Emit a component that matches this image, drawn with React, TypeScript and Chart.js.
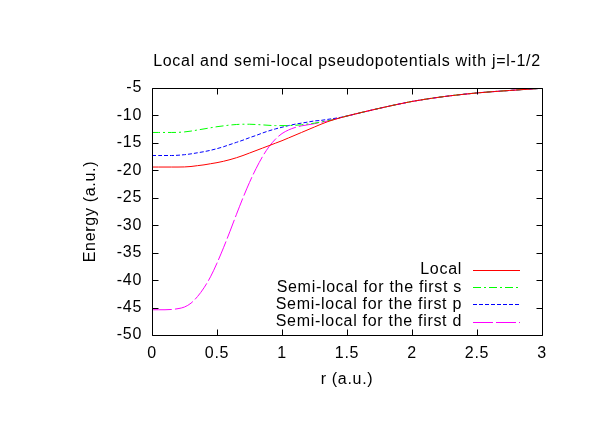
import React, { useEffect, useRef } from 'react';
import { Chart, registerables } from 'chart.js';

Chart.register(...registerables);

const rValues = [
  0, 0.05, 0.1, 0.15, 0.2, 0.25, 0.3, 0.35, 0.4, 0.45, 0.5, 0.55, 0.6, 0.65, 0.7, 0.75,
  0.8, 0.85, 0.9, 0.95, 1.0, 1.05, 1.1, 1.15, 1.2, 1.25, 1.3, 1.35, 1.4, 1.45, 1.5,
  1.75, 2.0, 2.25, 2.5, 2.75, 3.0,
];

const localValues = [
  -19.4, -19.4, -19.4, -19.4, -19.4, -19.38, -19.3, -19.15, -19.0, -18.8, -18.6, -18.35,
  -18.05, -17.7, -17.3, -16.85, -16.4, -15.95, -15.5, -15.05, -14.6, -14.1, -13.6, -13.1,
  -12.6, -12.1, -11.6, -11.15, -10.75, -10.42, -10.1,
  -8.7, -7.45, -6.55, -5.9, -5.45, -5.05,
];

const sValues = [
  -13.1, -13.1, -13.1, -13.1, -13.08, -13.0, -12.85, -12.65, -12.45, -12.25, -12.05, -11.9,
  -11.75, -11.65, -11.6, -11.6, -11.65, -11.72, -11.8, -11.85, -11.85, -11.85, -11.8, -11.7,
  -11.55, -11.4, -11.2, -11.0, -10.75, -10.42, -10.1,
  -8.7, -7.45, -6.55, -5.9, -5.45, -5.05,
];

const pValues = [
  -17.3, -17.3, -17.3, -17.3, -17.25, -17.15, -17.0, -16.8, -16.6, -16.35, -16.05, -15.7,
  -15.3, -14.9, -14.5, -14.05, -13.65, -13.2, -12.8, -12.45, -12.15, -11.85, -11.6, -11.4,
  -11.2, -11.0, -10.9, -10.72, -10.55, -10.35, -10.1,
  -8.7, -7.45, -6.55, -5.9, -5.45, -5.05,
];

const dValues = [
  -45.4, -45.4, -45.4, -45.35, -45.2, -44.9, -44.2, -43.0, -41.4, -39.4, -36.9, -34.1,
  -31.1, -28.0, -25.0, -22.2, -19.7, -17.5, -15.7, -14.3, -13.3, -12.65, -12.2, -11.9,
  -11.7, -11.5, -11.25, -11.0, -10.72, -10.42, -10.1,
  -8.7, -7.45, -6.55, -5.9, -5.45, -5.05,
];

const xTicks = [0, 0.5, 1, 1.5, 2, 2.5, 3];
const xTickLabels = ['0', '0.5', '1', '1.5', '2', '2.5', '3'];
const yTicks = [-5, -10, -15, -20, -25, -30, -35, -40, -45, -50];
const yTickLabels = ['-5', '-10', '-15', '-20', '-25', '-30', '-35', '-40', '-45', '-50'];

const seriesLabels = [
  'Local',
  'Semi-local for the first s',
  'Semi-local for the first p',
  'Semi-local for the first d',
];
const seriesColors = ['#ff0000', '#00ff00', '#0000ff', '#ff00ff'];
const seriesDashes: number[][] = [[], [8, 3, 2, 3], [4, 2], [20, 3]];

const titleText = 'Local and semi-local pseudopotentials with j=l-1/2';
const xTitle = 'r (a.u.)';
const yTitle = 'Energy (a.u.)';

const FONT_FAMILY = '"Liberation Sans", Arial, sans-serif';
const FONT_SIZE = 16;
const LETTER_SPACING = '0.7px';

const toPoints = (ys: number[]) => rValues.map((x, i) => ({ x, y: ys[i] }));

const framePlugin = {
  id: 'gnuplotFrame',
  beforeDraw(chart: any) {
    const ctx = chart.ctx;
    ctx.letterSpacing = LETTER_SPACING;
  },
  afterDraw(chart: any) {
    const ctx = chart.ctx as CanvasRenderingContext2D;
    const { left, right, top, bottom } = chart.chartArea;
    const xs = chart.scales.x;
    const ys = chart.scales.y;
    ctx.save();
    (ctx as any).letterSpacing = LETTER_SPACING;
    ctx.strokeStyle = '#000';
    ctx.lineWidth = 1;
    ctx.setLineDash([]);
    const L = Math.round(left) + 0.5;
    const R = Math.round(right) + 0.5;
    const T = Math.round(top) + 0.5;
    const B = Math.round(bottom) + 0.5;
    ctx.beginPath();
    ctx.rect(L, T, R - L, B - T);
    const tl = 6;
    xTicks.forEach((v) => {
      const px = Math.round(xs.getPixelForValue(v)) + 0.5;
      ctx.moveTo(px, B);
      ctx.lineTo(px, B - tl);
      ctx.moveTo(px, T);
      ctx.lineTo(px, T + tl);
    });
    yTicks.forEach((v) => {
      const py = Math.round(ys.getPixelForValue(v)) + 0.5;
      ctx.moveTo(L, py);
      ctx.lineTo(L + tl, py);
      ctx.moveTo(R, py);
      ctx.lineTo(R - tl, py);
    });
    ctx.stroke();

    ctx.fillStyle = '#000';
    ctx.font = `${FONT_SIZE}px ${FONT_FAMILY}`;
    ctx.textBaseline = 'middle';
    ctx.textAlign = 'center';
    ctx.fillText(titleText, (left + right) / 2, 62);
    ctx.fillText(xTitle, (left + right) / 2, 380);

    ctx.save();
    ctx.translate(91, (top + bottom) / 2);
    ctx.rotate(-Math.PI / 2);
    ctx.fillText(yTitle, 0, 0);
    ctx.restore();

    // legend
    const legendTextRight = 462;
    const sampleStart = 473;
    const sampleEnd = 520;
    chart.data.datasets.forEach((ds: any, i: number) => {
      const y = 270 + i * 17.2;
      ctx.textAlign = 'right';
      ctx.fillStyle = '#000';
      ctx.fillText(ds.label, legendTextRight, y);
      ctx.strokeStyle = ds.borderColor;
      ctx.setLineDash(ds.borderDash || []);
      ctx.beginPath();
      ctx.moveTo(sampleStart, Math.round(y) + 0.5);
      ctx.lineTo(sampleEnd, Math.round(y) + 0.5);
      ctx.stroke();
    });
    ctx.restore();
  },
};

export default function App() {
  const canvasRef = useRef<HTMLCanvasElement | null>(null);

  useEffect(() => {
    if (!canvasRef.current) return;
    const allSeries = [localValues, sValues, pValues, dValues];
    const chart = new Chart(canvasRef.current, {
      type: 'line',
      data: {
        datasets: allSeries.map((vals, i) => ({
          label: seriesLabels[i],
          data: toPoints(vals),
          borderColor: seriesColors[i],
          backgroundColor: seriesColors[i],
          borderWidth: 1,
          borderDash: seriesDashes[i],
          pointRadius: 0,
          fill: false,
          cubicInterpolationMode: 'monotone' as const,
        })),
      },
      options: {
        animation: false,
        responsive: false,
        devicePixelRatio: 1,
        layout: { padding: { left: 0, top: 88, right: 70, bottom: 0 } },
        plugins: {
          legend: { display: false },
          title: { display: false },
          tooltip: { enabled: false },
        },
        scales: {
          x: {
            type: 'linear',
            min: 0,
            max: 3,
            grid: { display: false, drawTicks: false },
            border: { display: false },
            ticks: {
              color: '#000',
              font: { family: FONT_FAMILY, size: FONT_SIZE },
              padding: 9,
              maxRotation: 0,
              autoSkip: false,
              callback: (value: any) => {
                const idx = xTicks.indexOf(Number(value));
                return idx >= 0 ? xTickLabels[idx] : '';
              },
            },
            afterBuildTicks: (scale: any) => {
              scale.ticks = xTicks.map((v) => ({ value: v }));
            },
            afterFit: (scale: any) => {
              scale.height = 93;
            },
          },
          y: {
            type: 'linear',
            min: -50,
            max: -5,
            grid: { display: false, drawTicks: false },
            border: { display: false },
            ticks: {
              color: '#000',
              font: { family: FONT_FAMILY, size: FONT_SIZE },
              padding: 10,
              autoSkip: false,
              callback: (value: any) => {
                const idx = yTicks.indexOf(Number(value));
                return idx >= 0 ? yTickLabels[idx] : '';
              },
            },
            afterBuildTicks: (scale: any) => {
              scale.ticks = yTicks.map((v) => ({ value: v }));
            },
            afterFit: (scale: any) => {
              scale.width = 152;
            },
          },
        },
      },
      plugins: [framePlugin],
    });
    return () => chart.destroy();
  }, []);

  return (
    <div style={{ position: 'fixed', left: 0, top: 0, width: 612, height: 428, background: '#fff' }}>
      <canvas ref={canvasRef} width={612} height={428} style={{ width: 612, height: 428, display: 'block' }} />
    </div>
  );
}
